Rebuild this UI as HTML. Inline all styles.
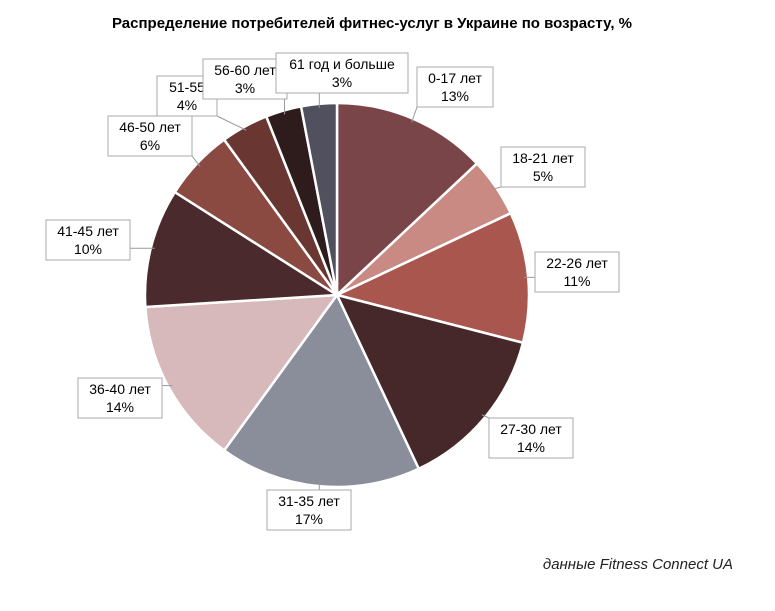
<!DOCTYPE html>
<html><head><meta charset="utf-8"><style>
body{margin:0;background:#fff;width:775px;height:606px;overflow:hidden;font-family:"Liberation Sans",sans-serif}
</style></head><body>
<svg width="775" height="606" xmlns="http://www.w3.org/2000/svg">
<text x="372" y="28" text-anchor="middle" font-size="15" font-weight="bold">Распределение потребителей фитнес-услуг в Украине по возрасту, %</text>
<g id="slices"></g><g id="labels"></g>
<text x="733" y="569" text-anchor="end" font-size="15" font-style="italic" fill="#222">данные Fitness Connect UA</text>
</svg>
<script>
const categories=["0-17 лет","18-21 лет","22-26 лет","27-30 лет","31-35 лет","36-40 лет","41-45 лет","46-50 лет","51-55","56-60 лет","61 год и больше"];
const values=[13,5,11,14,17,14,10,6,4,3,3];
const colors=["#7a4548","#c98a84","#a8564e","#46282a","#8a8e9b","#d8b9bb","#4a2a2c","#8a4a42","#6a3632","#2e1c1c","#50505e"];
const labelPos=[[455,87],[543,167],[577,272],[531,438],[309,510],[120,398],[88,240],[150,136],[187,96],[245,79],[342,73]];
const cx=337,cy=295,r=192,NS="http://www.w3.org/2000/svg";
const total=values.reduce((a,b)=>a+b,0);
const gs=document.getElementById('slices'),gl=document.getElementById('labels');
function pt(a,rr){return [cx+rr*Math.sin(a),cy-rr*Math.cos(a)];}
let acc=0;
values.forEach((v,i)=>{
 const a0=acc/total*2*Math.PI;acc+=v;const a1=acc/total*2*Math.PI;
 const p0=pt(a0,r),p1=pt(a1,r);
 const p=document.createElementNS(NS,'path');
 p.setAttribute('d',`M${cx},${cy}L${p0[0]},${p0[1]}A${r},${r} 0 ${a1-a0>Math.PI?1:0} 1 ${p1[0]},${p1[1]}Z`);
 p.setAttribute('fill',colors[i]);p.setAttribute('stroke','#fff');p.setAttribute('stroke-width','2.5');
 
 
 gs.appendChild(p);
 const am=(a0+a1)/2,e=pt(am,r-4);
 const [lx,ly]=labelPos[i];const w=Math.max(60,categories[i].length*8+12),h=40;
 const bx=Math.max(lx-w/2,Math.min(e[0],lx+w/2)),by=Math.max(ly-h/2,Math.min(e[1],ly+h/2));
 const ln=document.createElementNS(NS,'line');
 ln.setAttribute('x1',e[0]);ln.setAttribute('y1',e[1]);ln.setAttribute('x2',bx);ln.setAttribute('y2',by);
 ln.setAttribute('stroke','#999');ln.setAttribute('stroke-width','1');
 
 
 gl.appendChild(ln);
 const rc=document.createElementNS(NS,'rect');
 rc.setAttribute('x',lx-w/2);rc.setAttribute('y',ly-h/2);rc.setAttribute('width',w);rc.setAttribute('height',h);
 rc.setAttribute('fill','#fff');rc.setAttribute('stroke','#aaa');
 
 
 gl.appendChild(rc);
 [categories[i],v+'%'].forEach((s,k)=>{
  const t=document.createElementNS(NS,'text');
  t.setAttribute('x',lx);t.setAttribute('y',ly-4+k*18);t.setAttribute('text-anchor','middle');t.setAttribute('font-size','14');
  t.textContent=s;
  
  
  gl.appendChild(t);
 });
});
</script>
</body></html>
